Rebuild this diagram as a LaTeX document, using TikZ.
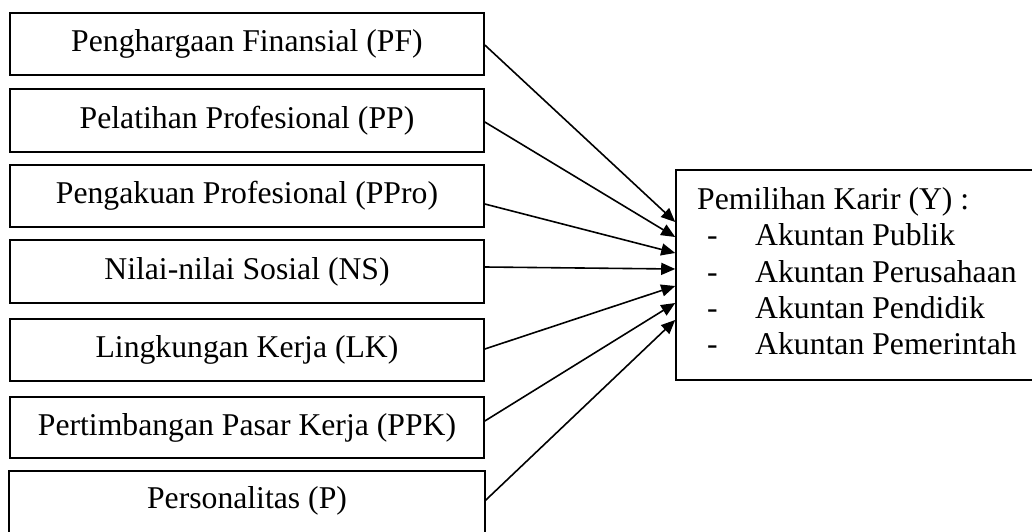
\documentclass[tikz,border=0pt]{standalone}
\usepackage{fontspec}
\setmainfont{Liberation Serif}
\usetikzlibrary{arrows.meta}
\begin{document}
\begin{tikzpicture}[x=1pt,y=-1pt,
  lbox/.style={draw, line width=1.6pt, minimum width=474pt, minimum height=62pt, inner sep=0pt, font=\fontsize{31.7}{36.5}\selectfont},
  txt/.style={inner sep=0pt, font=\fontsize{31.7}{36.5}\selectfont},
  arr/.style={line width=1.6pt, -{Triangle[length=14pt,width=12pt]}}]
\useasboundingbox (0,0) rectangle (1032,532);
\node[lbox] (pf) at (247,44) {Penghargaan Finansial (PF)};
\node[lbox, minimum height=63pt] (pp) at (247,120.5) {Pelatihan Profesional (PP)};
\node[lbox] (ppro) at (247,196) {Pengakuan Profesional (PPro)};
\node[lbox, minimum height=63pt] (ns) at (247,271.5) {Nilai-nilai Sosial (NS)};
\node[lbox] (lk) at (247,350) {Lingkungan Kerja (LK)};
\node[lbox, minimum height=61pt] (ppk) at (247,427.5) {Pertimbangan Pasar Kerja (PPK)};
\node[lbox, draw=none, minimum height=58pt] (p) at (247,501) {Personalitas (P)};
\draw[line width=1.6pt] ([yshift=-20pt]p.south west) -- (p.north west) -- (p.north east) -- ([yshift=-20pt]p.south east);
\node[draw, line width=1.6pt, minimum width=369pt, minimum height=210pt, inner sep=0pt] (y) at (860.5,275) {};
\node[txt, anchor=base west] (yt) at (697,209) {Pemilihan Karir (Y) :};
\node[txt, anchor=base west] (d1) at (707,245.5) {-};
\node[txt, anchor=base west] (a1) at (755,245.5) {Akuntan Publik};
\node[txt, anchor=base west] (d2) at (707,282) {-};
\node[txt, anchor=base west] (a2) at (755,282) {Akuntan Perusahaan};
\node[txt, anchor=base west] (d3) at (707,318) {-};
\node[txt, anchor=base west] (a3) at (755,318) {Akuntan Pendidik};
\node[txt, anchor=base west] (d4) at (707,354) {-};
\node[txt, anchor=base west] (a4) at (755,354) {Akuntan Pemerintah};
\draw[arr] ([yshift=-1pt]pf.east) -- ([yshift=53pt]y.west);
\draw[arr] ([yshift=-1.5pt]pp.east) -- ([yshift=38pt]y.west);
\draw[arr] ([yshift=-8pt]ppro.east) -- ([yshift=22pt]y.west);
\draw[arr] ([yshift=4.5pt]ns.east) -- ([yshift=6pt]y.west);
\draw[arr] ([yshift=1pt]lk.east) -- ([yshift=-11pt]y.west);
\draw[arr] ([yshift=6.5pt]ppk.east) -- ([yshift=-28pt]y.west);
\draw[arr] (p.east) -- ([yshift=-45pt]y.west);
\end{tikzpicture}
\end{document}
